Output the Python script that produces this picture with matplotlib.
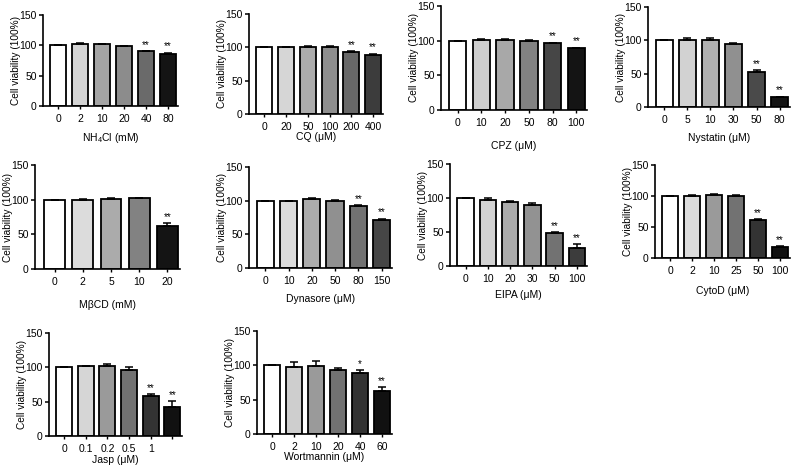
import numpy as np
import matplotlib
matplotlib.use('Agg')
import matplotlib.pyplot as plt

plt.rcParams['font.family'] = ['Liberation Sans', 'DejaVu Sans']
plt.rcParams['mathtext.fontset'] = 'custom'
plt.rcParams['mathtext.rm'] = 'Liberation Sans'
plt.rcParams['mathtext.it'] = 'Liberation Sans'

# data
nh4cl_doses = ['0', '2', '10', '20', '40', '80']
nh4cl_vals = [100, 103, 102, 99, 90, 85]
nh4cl_err = [0, 1.5, 1, 0.5, 1, 3]
nh4cl_sig = ['', '', '', '', '**', '**']

cq_doses = ['0', '20', '50', '100', '200', '400']
cq_vals = [100, 100, 101, 101, 93, 89]
cq_err = [0, 0.8, 0.8, 1, 1, 1.5]
cq_sig = ['', '', '', '', '**', '**']

cpz_doses = ['0', '10', '20', '50', '80', '100']
cpz_vals = [100, 101, 101, 100, 96, 89]
cpz_err = [0, 1, 0.8, 1, 1, 1]
cpz_sig = ['', '', '', '', '**', '**']

nys_doses = ['0', '5', '10', '30', '50', '80']
nys_vals = [100, 101, 100, 95, 53, 14.5]
nys_err = [0, 3, 3.5, 1.5, 2.5, 1]
nys_sig = ['', '', '', '', '**', '**']

mbcd_doses = ['0', '2', '5', '10', '20']
mbcd_vals = [100, 100, 101, 102, 62]
mbcd_err = [0, 1, 1, 0.8, 4]
mbcd_sig = ['', '', '', '', '**']

dyn_doses = ['0', '10', '20', '50', '80', '150']
dyn_vals = [100, 99, 102, 99, 92, 72]
dyn_err = [0, 0.5, 1.5, 1.5, 1.5, 1]
dyn_sig = ['', '', '', '', '**', '**']

eipa_doses = ['0', '10', '20', '30', '50', '100']
eipa_vals = [100, 97, 94, 90, 48, 27]
eipa_err = [0, 3, 1, 2, 1.5, 5]
eipa_sig = ['', '', '', '', '**', '**']

cytod_doses = ['0', '2', '10', '25', '50', '100']
cytod_vals = [100, 100.5, 101.5, 100, 61.5, 17]
cytod_err = [0, 1, 1.5, 1, 1, 2]
cytod_sig = ['', '', '', '', '**', '**']

jasp_doses = ['0', '0.1', '0.2', '0.5', '1', '']
jasp_vals = [100, 101.5, 101.5, 96.5, 58.5, 42]
jasp_err = [0, 1, 3.5, 4, 2.5, 8.5]
jasp_sig = ['', '', '', '', '**', '**']

wort_doses = ['0', '2', '10', '20', '40', '60']
wort_vals = [100, 97.5, 98.5, 93, 89.5, 62.5]
wort_err = [0, 7, 7.5, 3.5, 3.5, 6]
wort_sig = ['', '', '', '', '*', '**']

panels = [
    ('NH$_4$Cl (mM)', nh4cl_doses, nh4cl_vals, nh4cl_err, nh4cl_sig),
    ('CQ (\u03bcM)', cq_doses, cq_vals, cq_err, cq_sig),
    ('CPZ (\u03bcM)', cpz_doses, cpz_vals, cpz_err, cpz_sig),
    ('Nystatin (\u03bcM)', nys_doses, nys_vals, nys_err, nys_sig),
    ('M\u03b2CD (mM)', mbcd_doses, mbcd_vals, mbcd_err, mbcd_sig),
    ('Dynasore (\u03bcM)', dyn_doses, dyn_vals, dyn_err, dyn_sig),
    ('EIPA (\u03bcM)', eipa_doses, eipa_vals, eipa_err, eipa_sig),
    ('CytoD (\u03bcM)', cytod_doses, cytod_vals, cytod_err, cytod_sig),
    ('Jasp (\u03bcM)', jasp_doses, jasp_vals, jasp_err, jasp_sig),
    ('Wortmannin (\u03bcM)', wort_doses, wort_vals, wort_err, wort_sig),
]

# bar fills per panel (white -> black)
fills = [
    ['white', '#d4d4d4', '#a4a4a4', '#8c8c8c', '#6a6a6a', '#141414'],
    ['white', '#d6d6d6', '#acacac', '#8e8e8e', '#686868', '#3c3c3c'],
    ['white', '#cecece', '#a8a8a8', '#828282', '#464646', '#141414'],
    ['white', '#d2d2d2', '#b0b0b0', '#909090', '#4a4a4a', '#141414'],
    ['white', '#dcdcdc', '#ababab', '#828282', '#141414'],
    ['white', '#dcdcdc', '#acacac', '#909090', '#727272', '#464646'],
    ['white', '#d2d2d2', '#acacac', '#929292', '#727272', '#3c3c3c'],
    ['white', '#dcdcdc', '#9a9a9a', '#727272', '#333333', '#111111'],
    ['white', '#d6d6d6', '#9a9a9a', '#727272', '#333333', '#111111'],
    ['white', '#cecece', '#9a9a9a', '#727272', '#333333', '#111111'],
]

# axes boxes in pixels: left, right, top (150), bottom (0)
boxes = [
    (43, 178, 15, 106), (249, 383, 14, 114), (441, 587, 6, 110), (648, 790, 7, 107),
    (35, 180, 165, 269), (249, 392, 167, 268), (450, 587, 164, 266), (655, 790, 165, 258),
    (49, 182, 333, 436), (257, 392, 331, 434),
]
xlabel_pads = [4.6, -0.4, 8.9, 5.3, 8.9, 5.3, 3.9, 6.8, 0.3, -0.4]

W, H = 796, 467
fig = plt.figure(figsize=(W / 100, H / 100), dpi=100)
fs = 7.5

for (xlab, doses, vals, err, sig), cols, (x0, x1, yt, yb), lp in zip(panels, fills, boxes, xlabel_pads):
    ax = fig.add_axes([x0 / W, 1 - yb / H, (x1 - x0) / W, (yb - yt) / H])
    x = np.arange(len(vals))
    ax.bar(x, vals, width=0.74, color=cols, edgecolor='black', linewidth=1.3, zorder=2)
    ax.errorbar(x, vals, yerr=[np.zeros(len(err)), err], fmt='none', ecolor='black',
                elinewidth=1.1, capsize=3, capthick=1.1, zorder=3)
    for xi, v, e, s in zip(x, vals, err, sig):
        if s:
            ax.text(xi, v + e + 2, s, ha='center', va='bottom', fontsize=7)
    ax.set_xlim(-0.7, len(vals) - 0.55)
    ax.set_ylim(0, 150)
    ax.set_yticks([0, 50, 100, 150])
    ax.set_xticks(x)
    ax.set_xticklabels(doses)
    ax.spines['top'].set_visible(False)
    ax.spines['right'].set_visible(False)
    ax.spines['left'].set_linewidth(1.2)
    ax.spines['bottom'].set_linewidth(1.2)
    ax.tick_params(axis='y', length=3, width=1.1, labelsize=fs, pad=1.5)
    ax.tick_params(axis='x', length=2, width=1, labelsize=fs, pad=4)
    ax.set_ylabel('Cell viability (100%)', fontsize=7.3, labelpad=-1)
    ax.set_xlabel(xlab, fontsize=fs, labelpad=lp)

fig.savefig('out.png', dpi=100)
